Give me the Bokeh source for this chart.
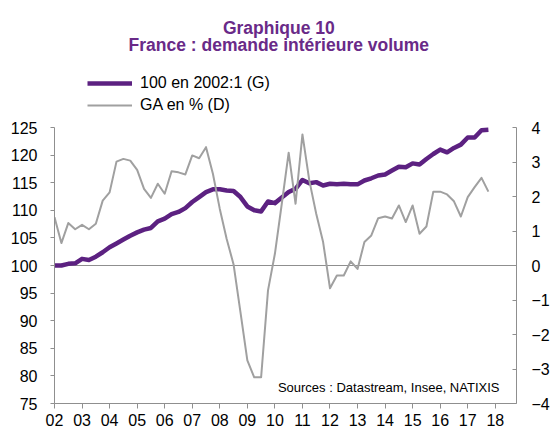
from bokeh.plotting import figure
from bokeh.models import (Range1d, LinearAxis, FixedTicker, Span, Label,
                          Legend, LegendItem, ColumnDataSource)
from bokeh.embed import file_html
from bokeh.resources import INLINE

# ---- data (quarterly, 2002Q1 .. 2017Q4) ----
first_year = 2002
index_2002 = [100.0, 100.0, 100.3, 100.4, 101.2, 101.0, 101.6, 102.4,
              103.3, 104.0, 104.7, 105.4, 106.0, 106.5, 106.8, 108.0,
              108.5, 109.3, 109.7, 110.4, 111.5, 112.4, 113.3, 113.8,
              113.8, 113.6, 113.5, 112.4, 110.7, 110.0, 109.8, 111.6,
              111.3, 112.3, 113.3, 113.9, 115.5, 114.9, 115.1, 114.5,
              114.8, 114.7, 114.8, 114.7, 114.7, 115.4, 115.8, 116.3,
              116.5, 117.2, 117.9, 117.8, 118.5, 118.3, 119.3, 120.2,
              121.0, 120.5, 121.3, 121.9, 123.2, 123.2, 124.5, 124.6]
ga_pct = [1.40, 0.65, 1.23, 1.05, 1.18, 1.05, 1.21, 1.88,
          2.12, 3.01, 3.09, 3.04, 2.77, 2.22, 1.96, 2.37,
          2.08, 2.73, 2.70, 2.64, 3.19, 3.11, 3.43, 2.66,
          1.64, 0.77, 0.03, -1.35, -2.75, -3.24, -3.24, -0.72,
          0.34, 1.79, 3.27, 1.79, 3.80, 2.46, 1.50, 0.68,
          -0.66, -0.29, -0.29, 0.12, -0.10, 0.68, 0.87, 1.37,
          1.42, 1.36, 1.74, 1.26, 1.74, 0.92, 1.13, 2.14,
          2.14, 2.06, 1.86, 1.42, 1.98, 2.27, 2.54, 2.14]
years = list(range(2002, 2019))
year_labels = ["02", "03", "04", "05", "06", "07", "08", "09", "10",
               "11", "12", "13", "14", "15", "16", "17", "18"]
left_ticks = [75, 80, 85, 90, 95, 100, 105, 110, 115, 120, 125]
right_ticks = [-4, -3, -2, -1, 0, 1, 2, 3, 4]
title_1 = "Graphique 10"
title_2 = "France : demande intérieure volume"
legend_labels = ["100 en 2002:1 (G)", "GA en % (D)"]
source_text = "Sources : Datastream, Insee, NATIXIS"

quarter_x = [first_year + q / 4 for q in range(len(index_2002))]
src = ColumnDataSource(dict(x=quarter_x, idx=index_2002, ga=ga_pct))

PURPLE = "#5c2181"
TITLE_C = "#692a88"
GRAY = "#a0a0a0"
AX = "#8f8f8f"
FONT = "Liberation Sans"

# layout in pixels: frame from x=54..522, y=0..403 ; axes span 127..403
W, H = 552, 431
FL, FR, FB = 54, 522, 403
AX_TOP = 127
frame_h = FB
left_lo, left_hi = 75, 125
right_lo, right_hi = -4, 4
left_top = left_lo + frame_h * (left_hi - left_lo) / (FB - AX_TOP)
right_top = right_lo + frame_h * (right_hi - right_lo) / (FB - AX_TOP)

p = figure(width=W, height=H, x_range=Range1d(2002, 2018.77),
           y_range=Range1d(left_lo, left_top), output_backend="svg",
           toolbar_location=None, min_border_left=FL,
           min_border_right=W - FR, min_border_top=0,
           min_border_bottom=H - FB)
p.outline_line_color = None
p.grid.visible = False
p.background_fill_color = "white"
p.border_fill_color = "white"
p.extra_y_ranges = {"ga": Range1d(right_lo, right_top)}

p.add_layout(Span(location=100, dimension="width", line_color=AX,
                  line_width=1, level="underlay"))

r1 = p.line("x", "idx", source=src, line_color=PURPLE, line_width=4.5,
            line_join="round")
r2 = p.line("x", "ga", source=src, y_range_name="ga", line_color=GRAY,
            line_width=2, line_join="round")

# axes
xa = p.xaxis[0]
xa.ticker = FixedTicker(ticks=years)
xa.major_label_overrides = {y: l for y, l in zip(years, year_labels)}
ya = p.yaxis[0]
ya.ticker = FixedTicker(ticks=left_ticks)
ya.bounds = (left_lo, left_hi)
ra = LinearAxis(y_range_name="ga", ticker=FixedTicker(ticks=right_ticks),
                bounds=(right_lo, right_hi))
p.add_layout(ra, "right")
for ax in (xa, ya, ra):
    ax.axis_line_color = AX
    ax.axis_line_width = 1
    ax.major_tick_line_color = AX
    ax.minor_tick_line_color = None
    ax.major_label_text_font = FONT
    ax.major_label_text_font_size = "16px"
    ax.major_label_text_color = "#000000"
xa.major_tick_out = 5
xa.major_tick_in = 0
xa.major_label_standoff = 5
ya.major_tick_out = 4
ya.major_tick_in = 0
ya.major_label_standoff = 13
ra.major_tick_out = 0
ra.major_tick_in = 4
ra.major_label_standoff = 15

# legend (inside the tall frame, above the axes area)
legend = Legend(items=[LegendItem(label=legend_labels[0], renderers=[r1]),
                       LegendItem(label=legend_labels[1], renderers=[r2])],
                location=(33, 287.5))
legend.glyph_width = 45
legend.glyph_height = 22
legend.label_height = 22
legend.label_standoff = 8
legend.spacing = 0
legend.padding = 0
legend.margin = 0
legend.border_line_color = None
legend.background_fill_alpha = 0
legend.label_text_font = FONT
legend.label_text_font_size = "16px"
legend.label_text_color = "#000000"
p.add_layout(legend)

# titles and source
for txt, yy in ((title_1, FB - 27.7), (title_2, FB - 44.3)):
    p.add_layout(Label(x=278.3 - FL, y=yy, x_units="screen",
                       y_units="screen", text=txt, text_align="center",
                       text_baseline="alphabetic", text_font=FONT,
                       text_font_size="17.5px", text_font_style="bold",
                       text_color=TITLE_C))
p.add_layout(Label(x=277.4 - FL, y=FB - 386.5, x_units="screen",
                   y_units="screen", text=source_text, text_align="left",
                   text_baseline="alphabetic", text_font=FONT,
                   text_font_size="13px", text_color="#000000"))

open("out.html", "w").write(file_html(p, INLINE))
